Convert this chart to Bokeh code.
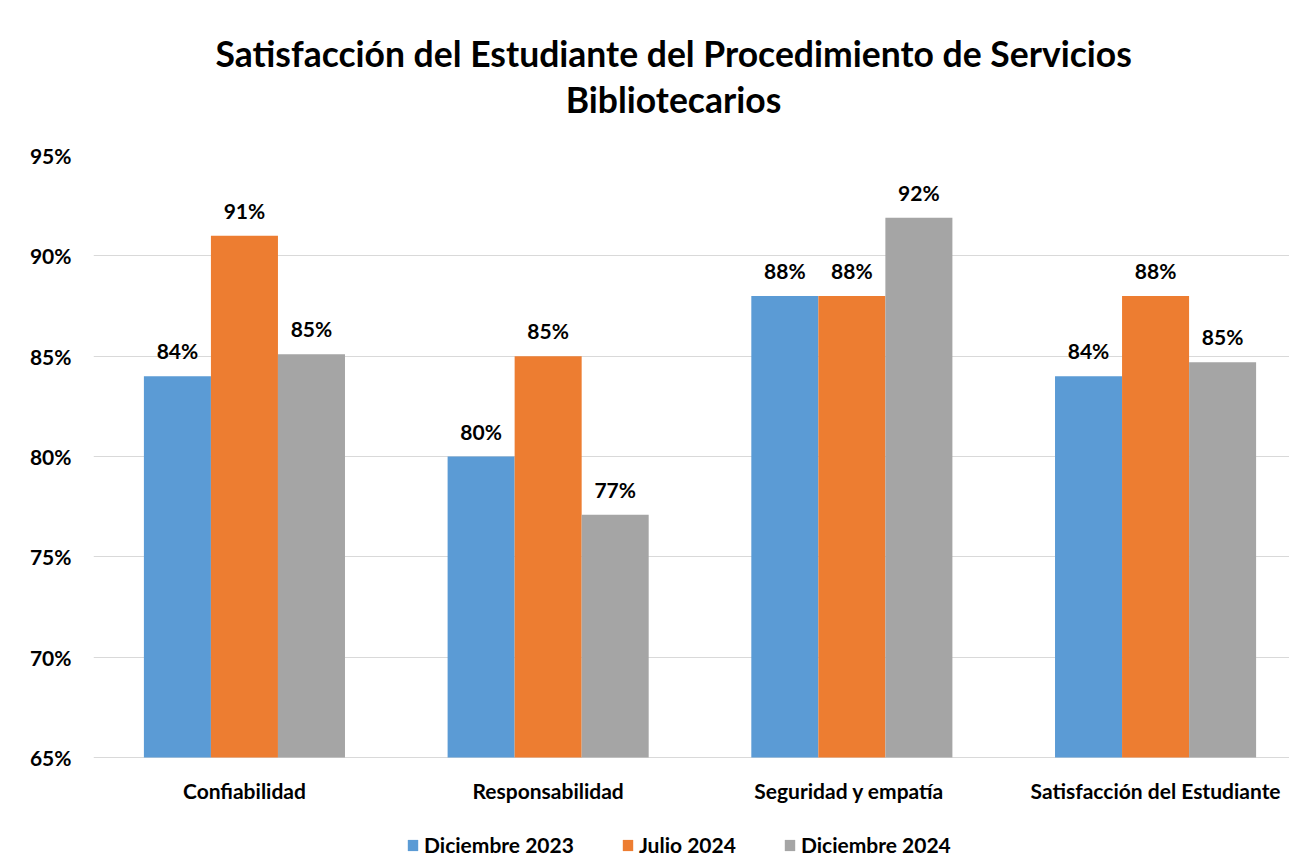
from bokeh.plotting import figure
from bokeh.models import (Title, FixedTicker, NumeralTickFormatter, Range1d,
                          Legend, LegendItem, ColumnDataSource, LabelSet,
                          LinearAxis, CustomJSTickFormatter)
from bokeh.core.properties import value
from bokeh.embed import file_html
from bokeh.resources import INLINE

title_line1 = "Satisfacción del Estudiante del Procedimiento de Servicios"
title_line2 = "Bibliotecarios"
categories = ["Confiabilidad", "Responsabilidad", "Seguridad  y empatía",
              "Satisfacción del Estudiante"]
series_names = ["Diciembre 2023", "Julio 2024", "Diciembre 2024"]
dic_2023 = [0.84, 0.80, 0.88, 0.84]
jul_2024 = [0.91, 0.85, 0.88, 0.88]
dic_2024 = [0.851, 0.771, 0.919, 0.847]
y_ticks = [0.65, 0.70, 0.75, 0.80, 0.85, 0.90, 0.95]
colors = ["#5B9BD5", "#ED7D31", "#A5A5A5"]

FONT = "Lato"
FS = "21px"
TFS = "35.5px"

# frame spans the plot plus the space for category labels and legend below
p = figure(width=1289, height=865, output_backend="svg", toolbar_location=None,
           title=None, x_axis_location=None,
           x_range=Range1d(-0.497, 3.441), y_range=Range1d(0.5962, 0.95),
           min_border_left=93, min_border_right=0, min_border_top=155,
           min_border_bottom=0)
p.outline_line_color = None
p.background_fill_color = "white"
p.border_fill_color = "white"

base = y_ticks[0]
bw = 0.2207
offsets = [-bw, 0.0, bw]
renderers = []
for vals, name, col, off in zip([dic_2023, jul_2024, dic_2024], series_names, colors, offsets):
    xs = [i + off for i in range(len(categories))]
    src = ColumnDataSource(dict(x=xs, top=vals, lab=[f"{v:.0%}" for v in vals]))
    r = p.vbar(x="x", top="top", bottom=base, width=bw, source=src,
               fill_color=col, line_color=None)
    renderers.append((name, r))
    labels = LabelSet(x="x", y="top", text="lab", source=src, text_align="center",
                      text_baseline="bottom", y_offset=13, text_font=value(FONT),
                      text_font_style="bold", text_font_size=value(FS),
                      text_color="black")
    p.add_layout(labels)

# category labels under the baseline
cat_src = ColumnDataSource(dict(x=list(range(len(categories))),
                                y=[base] * len(categories), t=categories))
p.text(x="x", y="y", text="t", source=cat_src, text_align="center",
       text_baseline="middle", y_offset=33, text_font=value(FONT),
       text_font_style="bold", text_font_size=value(FS), text_color="black")

p.yaxis.ticker = FixedTicker(ticks=y_ticks)
p.yaxis.formatter = NumeralTickFormatter(format="0%")
p.yaxis.axis_line_color = None
p.yaxis.major_tick_line_color = None
p.yaxis.minor_tick_line_color = None
p.yaxis.major_tick_out = 0
p.yaxis.major_label_standoff = 22
p.yaxis.major_label_text_font = FONT
p.yaxis.major_label_text_font_style = "bold"
p.yaxis.major_label_text_font_size = FS
p.yaxis.major_label_text_color = "black"

p.xgrid.grid_line_color = None
p.ygrid.grid_line_color = "#d9d9d9"
p.ygrid.grid_line_width = 1

# legend
legend = Legend(items=[LegendItem(label=n, renderers=[r]) for n, r in renderers],
                orientation="horizontal", location=(313, 8))
legend.label_text_font = FONT
legend.label_text_font_style = "bold"
legend.label_text_font_size = FS
legend.label_text_color = "black"
legend.glyph_width = 13
legend.glyph_height = 14
legend.label_standoff = 5
legend.spacing = 47
legend.padding = 0
legend.margin = 0
legend.border_line_color = None
legend.background_fill_alpha = 0
p.add_layout(legend)

# second title line (centred over the chart) as an above-axis label
top_axis = LinearAxis(ticker=FixedTicker(ticks=[1.4127]),
                      formatter=CustomJSTickFormatter(args=dict(t=title_line2),
                                                      code="return t"))
top_axis.axis_line_color = None
top_axis.major_tick_line_color = None
top_axis.minor_tick_line_color = None
top_axis.major_tick_out = 0
top_axis.major_tick_in = 0
top_axis.major_label_standoff = 35
top_axis.major_label_text_font = FONT
top_axis.major_label_text_font_style = "bold"
top_axis.major_label_text_font_size = TFS
top_axis.major_label_text_color = "black"
p.add_layout(top_axis, "above")

# first title line
title = Title(text=title_line1, align="left", offset=122, text_font=FONT,
              text_font_style="bold", text_font_size=TFS, text_color="black",
              standoff=0)
p.add_layout(title, "above")

open("out.html", "w").write(file_html(p, INLINE))
